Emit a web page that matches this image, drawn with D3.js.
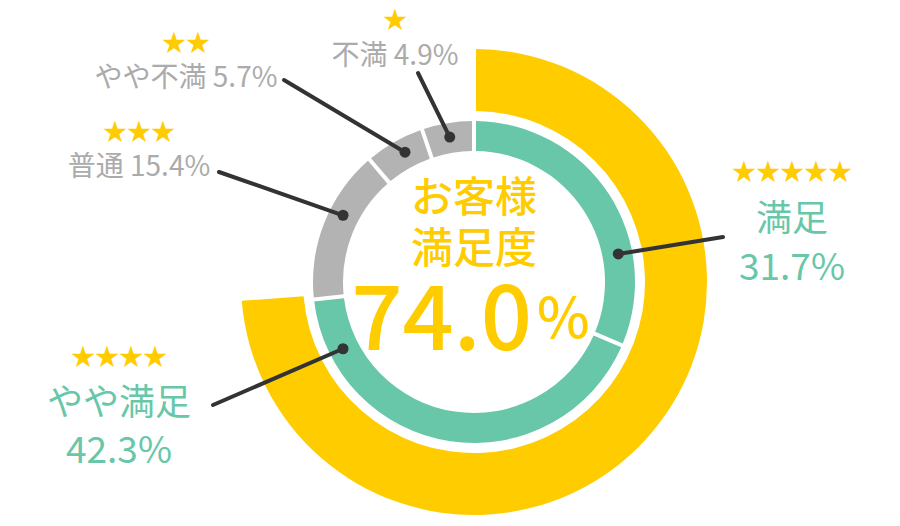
<!DOCTYPE html>
<html>
<head>
<meta charset="utf-8">
<script src="https://cdn.jsdelivr.net/npm/d3@7"></script>
<style>
  html, body { margin: 0; padding: 0; background: #fff; }
  svg { display: block; font-family: "Noto Sans CJK JP", "Noto Sans", sans-serif; }
</style>
</head>
<body>
<div id="chart"></div>
<script>
// Satisfaction breakdown
const categories = ["満足", "やや満足", "普通", "やや不満", "不満"];
const shares = [31.7, 42.3, 15.4, 5.7, 4.9];
const starCounts = [5, 4, 3, 2, 1];
const satisfiedTotal = 74.0;
const titleLines = ["お客様", "満足度"];

const COLORS = {
  yellow: "#FFCC00",
  green: "#68C7A8",
  gray: "#B3B3B3",
  labelGray: "#ABABAB",
  line: "#333333"
};

// Label placement (angle of leader dot in degrees, leader end, text anchor)
const labelLayout = [
  { angle: 79, end: [723, 237], x: 792, starY: 180, nameY: 231, valueY: 280, stacked: true },
  { angle: 243, end: [213, 405], x: 119, starY: 365, nameY: 415, valueY: 463, stacked: true },
  { angle: 297, end: [219, 172], x: 139, starY: 140, nameY: 176, stacked: false },
  { angle: 332, end: [284, 80], x: 186, starY: 51, nameY: 87, stacked: false },
  { angle: 350.5, end: [418, 73], x: 395, starY: 28, nameY: 65, stacked: false }
];

const width = 900, height = 526;
const cx = 474, cy = 282;
const inner = { r0: 131, r1: 161 };
const outer = { r0: 171, r1: 233 };
const gap = 4;

const svg = d3.select("#chart").append("svg")
  .attr("width", width)
  .attr("height", height)
  .attr("viewBox", `0 0 ${width} ${height}`);

const g = svg.append("g").attr("transform", `translate(${cx},${cy})`);

// Outer ring: overall satisfied share
const outerPie = d3.pie().sort(null).value(d => d)
  .padAngle(gap / ((outer.r0 + outer.r1) / 2));
const outerArc = d3.arc().innerRadius(outer.r0).outerRadius(outer.r1)
  .padRadius((outer.r0 + outer.r1) / 2);

g.append("g").selectAll("path")
  .data(outerPie([satisfiedTotal, 100 - satisfiedTotal]).slice(0, 1))
  .join("path")
  .attr("d", outerArc)
  .attr("fill", COLORS.yellow);

// Inner ring: breakdown by category
const innerPie = d3.pie().sort(null).value(d => d)
  .padAngle(gap / ((inner.r0 + inner.r1) / 2));
const innerArc = d3.arc().innerRadius(inner.r0).outerRadius(inner.r1)
  .padRadius((inner.r0 + inner.r1) / 2);

const colorOf = i => starCounts[i] >= 4 ? COLORS.green : COLORS.gray;

g.append("g").selectAll("path")
  .data(innerPie(shares))
  .join("path")
  .attr("d", innerArc)
  .attr("fill", (d, i) => colorOf(i));

// Leader lines
const dotR = (inner.r0 + inner.r1) / 2 + 1;
const leaders = svg.append("g").attr("class", "leaders");
categories.forEach((c, i) => {
  const L = labelLayout[i];
  const a = L.angle * Math.PI / 180;
  const x0 = cx + dotR * Math.sin(a), y0 = cy - dotR * Math.cos(a);
  leaders.append("line")
    .attr("x1", x0).attr("y1", y0)
    .attr("x2", L.end[0]).attr("y2", L.end[1])
    .attr("stroke", COLORS.line)
    .attr("stroke-width", 4)
    .attr("stroke-linecap", "round");
  leaders.append("circle")
    .attr("cx", x0).attr("cy", y0)
    .attr("r", 5.5)
    .attr("fill", COLORS.line);
});

// Labels
const labels = svg.append("g").attr("class", "labels");
categories.forEach((c, i) => {
  const L = labelLayout[i];
  const col = starCounts[i] >= 4 ? COLORS.green : COLORS.labelGray;
  labels.append("text")
    .attr("x", L.x).attr("y", L.starY)
    .attr("text-anchor", "middle")
    .attr("font-size", 24)
    .attr("fill", COLORS.yellow)
    .text("★".repeat(starCounts[i]));
  if (L.stacked) {
    labels.append("text")
      .attr("x", L.x).attr("y", L.nameY)
      .attr("text-anchor", "middle")
      .attr("font-size", 36)
      .attr("fill", col)
      .text(c);
    labels.append("text")
      .attr("x", L.x).attr("y", L.valueY)
      .attr("text-anchor", "middle")
      .attr("font-size", 37)
      .attr("fill", col)
      .text(d3.format(".1f")(shares[i]) + "%");
  } else {
    labels.append("text")
      .attr("x", L.x).attr("y", L.nameY)
      .attr("text-anchor", "middle")
      .attr("font-size", 28)
      .attr("fill", col)
      .text(`${c} ${d3.format(".1f")(shares[i])}%`);
  }
});

// Centre title
const centre = svg.append("g").attr("fill", COLORS.yellow).attr("font-weight", 500);
centre.selectAll("text.title")
  .data(titleLines)
  .join("text")
  .attr("class", "title")
  .attr("x", cx)
  .attr("y", (d, i) => 212 + i * 51)
  .attr("text-anchor", "middle")
  .attr("font-size", 42)
  .text(d => d);

centre.append("text")
  .attr("x", cx + 58).attr("y", 350)
  .attr("text-anchor", "end")
  .attr("font-size", 90)
  .text(d3.format(".1f")(satisfiedTotal));

centre.append("text")
  .attr("x", cx + 63).attr("y", 338)
  .attr("text-anchor", "start")
  .attr("font-size", 56)
  .text("%");
</script>
</body>
</html>
